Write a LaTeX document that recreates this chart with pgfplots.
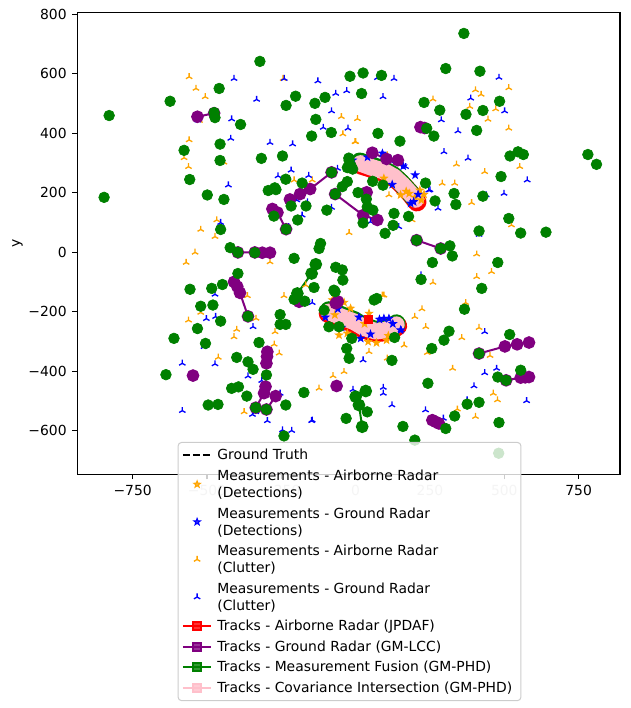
\documentclass[border=0pt]{standalone}
\usepackage{pgfplots}
\pgfplotsset{compat=1.18}
\usepackage{fontspec}
\setmainfont{DejaVu Sans}
\definecolor{morange}{HTML}{FFA500}
\definecolor{mblue}{HTML}{0000FF}
\definecolor{mgreen}{HTML}{008000}
\definecolor{mpurple}{HTML}{800080}
\definecolor{mred}{HTML}{FF0000}
\definecolor{mpink}{HTML}{FFC0CB}
\definecolor{faint}{HTML}{CCCCCC}
\pgfdeclareplotmark{triup}{%
 \pgfpathmoveto{\pgfqpoint{0pt}{0pt}}\pgfpathlineto{\pgfqpoint{0pt}{\pgfplotmarksize}}%
 \pgfpathmoveto{\pgfqpoint{0pt}{0pt}}\pgfpathlineto{\pgfqpoint{-0.866\pgfplotmarksize}{-0.5\pgfplotmarksize}}%
 \pgfpathmoveto{\pgfqpoint{0pt}{0pt}}\pgfpathlineto{\pgfqpoint{0.866\pgfplotmarksize}{-0.5\pgfplotmarksize}}%
 \pgfusepathqstroke}
\pgfdeclareplotmark{fstar}{%
 \pgfpathmoveto{\pgfqpointpolar{90}{\pgfplotmarksize}}%
 \pgfpathlineto{\pgfqpointpolar{126}{0.4\pgfplotmarksize}}%
 \pgfpathlineto{\pgfqpointpolar{162}{\pgfplotmarksize}}%
 \pgfpathlineto{\pgfqpointpolar{198}{0.4\pgfplotmarksize}}%
 \pgfpathlineto{\pgfqpointpolar{234}{\pgfplotmarksize}}%
 \pgfpathlineto{\pgfqpointpolar{270}{0.4\pgfplotmarksize}}%
 \pgfpathlineto{\pgfqpointpolar{306}{\pgfplotmarksize}}%
 \pgfpathlineto{\pgfqpointpolar{342}{0.4\pgfplotmarksize}}%
 \pgfpathlineto{\pgfqpointpolar{18}{\pgfplotmarksize}}%
 \pgfpathlineto{\pgfqpointpolar{54}{0.4\pgfplotmarksize}}%
 \pgfpathclose\pgfusepathqfillstroke}
\newcommand{\fs}{\fontsize{8.33}{10.2}\selectfont}
\begin{document}
\begin{tikzpicture}
\begin{axis}[
 scale only axis, width=325.6pt, height=277.2pt,
 xmin=-936, xmax=889, ymin=-746, ymax=807,
 axis line style={line width=0.67pt},
 tick style={line width=0.67pt, black},
 tick align=outside, major tick length=2.9pt,
 xtick pos=bottom, ytick pos=left,
 xtick={-750,-500,-250,0,250,500,750},
 xticklabels={−750,\textcolor{faint}{−500},\textcolor{faint}{−250},\textcolor{faint}{0},\textcolor{faint}{250},\textcolor{faint}{500},750},
 ytick={-600,-400,-200,0,200,400,600,800},
 yticklabels={−600,−400,−200,0,200,400,600,800},
 tick label style={font=\fs},
 ylabel={y}, ylabel style={font=\fs, at={(axis description cs:-0.11,0.5)}, anchor=center, rotate=0},
 legend style={at={(axis description cs:0.5016,0.07)}, anchor=north,
   font=\fs, draw=black!20, line width=0.6pt, fill=white, fill opacity=0.8, text opacity=1,
   rounded corners=2pt, nodes={align=left, inner ysep=1.85pt, inner xsep=3pt}, row sep=0pt,
   inner xsep=2.2pt, inner ysep=1.5pt},
 legend cell align=left,
 clip=true,
]
\addlegendimage{black, line width=1.1pt, dash pattern=on 4pt off 2pt}
\addlegendentry{\strut Ground Truth}
\addlegendimage{only marks, mark=fstar, morange, mark size=2.1pt}
\addlegendentry{\strut Measurements - Airborne Radar\\\strut(Detections)}
\addlegendimage{only marks, mark=fstar, mblue, mark size=2.1pt}
\addlegendentry{\strut Measurements - Ground Radar\\\strut(Detections)}
\addlegendimage{only marks, mark=triup, morange, mark size=2.2pt, line width=0.8pt}
\addlegendentry{\strut Measurements - Airborne Radar\\\strut(Clutter)}
\addlegendimage{only marks, mark=triup, mblue, mark size=2.2pt, line width=0.8pt}
\addlegendentry{\strut Measurements - Ground Radar\\\strut(Clutter)}
\addlegendimage{mred, line width=1.25pt, mark=square*, mark size=2.4pt}
\addlegendentry{\strut Tracks - Airborne Radar (JPDAF)}
\addlegendimage{mpurple, line width=1.25pt, mark=square*, mark size=2.4pt}
\addlegendentry{\strut Tracks - Ground Radar (GM-LCC)}
\addlegendimage{mgreen, line width=1.25pt, mark=square*, mark size=2.4pt}
\addlegendentry{\strut Tracks - Measurement Fusion (GM-PHD)}
\addlegendimage{mpink, line width=1.25pt, mark=square*, mark size=2.4pt}
\addlegendentry{\strut Tracks - Covariance Intersection (GM-PHD)}

% ground truth
\addplot[forget plot, black, dashed, line width=0.9pt] coordinates {(17,299) (50,287) (95,273) (129,254) (157,228) (179,204) (202,178)};
\addplot[forget plot, black, dashed, line width=0.9pt] coordinates {(-90,-200) (-50,-216) (-6,-233) (28,-253) (67,-265) (101,-261) (129,-250) (137,-243)};

% orange clutter
\addplot[forget plot, only marks, mark=triup, morange, mark size=2.2pt, line width=0.8pt] coordinates {
(-560,590) (-537,551) (-506,523) (-525,443) (-560,378) (-577,318) (-562,288) (-443,303) (-244,584) (-207,243) (-146,243) (-467,109) (-521,77) (-473,53)
(-48,456) (6,449) (-43,398) (-2,372) (260,515) (403,546) (422,531) (515,553) (384,490) (471,482) (445,447) (515,417) (339,296) (434,271) (552,288) (291,232) (333,232) (390,167) (524,92) (-22,66) (190,109) (106,327) (0,372) (112,193)
(-540,0) (-570,-34) (-288,-32) (-168,-110) (-241,-146) (-364,-146) (-562,-228) (-521,-202) (-400,-259) (-409,-284) (-335,-222) (-271,-267) (-274,-309) (-257,-339) (-462,-353) (-375,-536) (-123,-457)
(407,-6) (457,-65) (407,-82) (260,-101) (95,-144) (370,-169) (223,-190) (199,-216) (236,-250) (415,-253) (357,-287) (163,-312) (241,-337) (45,-334) (452,-347) (326,-390) (-76,-415) (-39,-401) (463,-474) (477,-496) (342,-527) (403,-552) (106,-356) (90,-144)
};
% blue clutter
\addplot[forget plot, only marks, mark=triup, mblue, mark size=2.2pt, line width=0.8pt] coordinates {
(-409,584) (-240,584) (-127,576) (-333,514) (-417,448) (-531,444) (-420,383) (-288,369) (-212,364) (-428,226) (-261,257) (-217,276) (-158,258) (-198,176) (-162,169) (-180,125) (-260,139) (-454,100) (-225,86)
(-67,534) (-30,543) (73,587) (129,584) (92,523) (-81,475) (-26,417) (-109,420) (288,445) (344,408) (387,518) (482,588) (501,475) (297,338) (378,316) (577,243) (499,198) (439,193) (250,210) (277,148) (-81,151) (50,103) (145,86) (415,60) (-61,282) (168,288) (246,209)
(220,-76) (-146,-169) (153,-261) (25,-362) (434,-267) (474,-390) (434,-405) (398,-449) (93,-454) (93,-474) (-9,-461) (122,-513) (235,-530) (375,-496) (295,-558) (575,-499) (-146,-564)
(-473,-141) (-502,-223) (-471,-216) (-345,-250) (-510,-317) (-583,-373) (-473,-375) (-362,-416) (-316,-431) (-254,-474) (-583,-532) (-347,-545) (-336,-536) (-297,-566) (-246,-597) (-215,-599) (-148,-566) (-179,-174)
};
% orange detections
\addplot[forget plot, only marks, mark=fstar, morange, mark size=2.4pt] coordinates {
(151,193) (216,209) (221,176) (200,185) (180,198) (95,249) (170,205) (230,195)
(-56,-278) (-28,-272) (45,-205) (42,-300) (70,-304) (104,-295) (110,-280) (-78,-160) (-39,-168) (-17,-188) (-70,-210) (30,-240)
};
% blue detections
\addplot[forget plot, only marks, mark=fstar, mblue, mark size=2.4pt] coordinates {
(90,333) (123,228) (185,165) (-10,310) (40,320) (60,330) (120,310) (160,290) (200,260) (210,195) (195,170) (-20,290)
(11,-218) (95,-222) (112,-222) (-47,-252) (17,-289) (151,-261) (-102,-218) (80,-225) (125,-240) (-60,-190) (50,-275)
};

% JPDAF tracks (red)
\addplot[forget plot, mred, line width=11.5pt, line cap=round, line join=round] coordinates {(18,294) (53,283) (98,268) (134,249) (162,222) (185,197) (206,170)};
\addplot[forget plot, mred, line width=11.5pt, line cap=round, line join=round] coordinates {(-92,-205) (-50,-222) (-6,-239) (28,-258) (67,-270) (101,-266) (130,-255) (141,-247)};
\addplot[forget plot, only marks, mark=square*, mred, mark size=2.5pt] coordinates {(42,-225)};

% GM-LCC tracks (purple)
\pgfplotsset{ptrk/.style={forget plot, mpurple, line width=1.2pt, mark=*, mark size=3.2pt}}
\addplot[ptrk] coordinates {(-532,456) (-476,468)};
\addplot[ptrk] coordinates {(-280,146) (-263,134) (-234,78)};
\addplot[ptrk] coordinates {(-221,178) (-187,196) (-153,213) (-81,269)};
\addplot[ptrk] coordinates {(56,335) (104,314) (142,310)};
\addplot[ptrk] coordinates {(37,202)};
\addplot[ptrk] coordinates {(-69,196) (25,125) (73,109)};
\addplot[ptrk] coordinates {(205,41) (286,13)};
\addplot[ptrk] coordinates {(218,421) (232,418)};
\addplot[ptrk] coordinates {(-396,0) (-339,0) (-314,-1) (-288,-1)};
\addplot[ptrk] coordinates {(-409,-99) (-398,-115) (-389,-136) (-362,-215)};
\addplot[ptrk] coordinates {(-297,-334) (-298,-350) (-300,-373)};
\addplot[ptrk] coordinates {(-336,-522) (-308,-473) (-303,-451)};
\addplot[ptrk] coordinates {(-300,-528) (-269,-483)};
\addplot[ptrk] coordinates {(-547,-414)};
\addplot[ptrk] coordinates {(-190,-166)};
\addplot[ptrk] coordinates {(415,-340) (502,-316) (543,-309) (583,-303)};
\addplot[ptrk] coordinates {(506,-430) (555,-421) (570,-420) (583,-419)};
\addplot[ptrk] coordinates {(-64,-449)};
\addplot[ptrk] coordinates {(258,-564) (270,-570) (280,-575)};
\addplot[ptrk] coordinates {(-67,-171) (-60,-165)};

% GM-PHD tracks (green)
\addplot[forget plot, mgreen, line width=11pt, line cap=round, line join=round] coordinates {(14,305) (47,293) (92,279) (125,260) (153,234) (175,209) (198,183)};
\addplot[forget plot, mgreen, line width=11pt, line cap=round, line join=round] coordinates {(-90,-195) (-50,-211) (-6,-228) (28,-249) (67,-261) (101,-257) (129,-246) (137,-239)};
\addplot[forget plot, mgreen, line width=1.2pt, mark=*, mark size=3.2pt] coordinates {(-196,-138) (-148,-71) (-134,-40)};
\addplot[forget plot, mgreen, line width=1.2pt, mark=*, mark size=3.2pt] coordinates {(22,-586) (11,-513) (0,-485) (34,-466)};
\addplot[forget plot, only marks, mgreen, mark=*, mark size=3.2pt] coordinates {
(-322,642) (-829,460) (-846,185) (-459,551) (-624,508) (-234,494) (-202,525) (-137,501) (-476,470) (-473,453) (-387,430) (-134,447) (-148,391) (-456,364) (-577,343) (-456,309) (-317,316) (-246,324) (-558,245) (-235,246) (-180,233) (-499,193) (-443,178) (-294,208) (-272,217) (-268,211) (-217,156) (-167,156) (-275,122) (-195,109) (-234,78) (-454,77) (-422,16)
(364,736) (303,618) (418,609) (-19,592) (25,603) (87,595) (-103,521) (20,534) (230,504) (283,478) (484,508) (371,464) (428,477) (407,410) (-82,403) (75,400) (149,374) (239,417) (263,391) (519,324) (546,338) (564,329) (781,329) (810,296) (489,255) (-81,269) (-22,309) (-15,290) (-10,280) (-23,317) (-28,285) (57,239) (92,226) (235,233) (-28,238) (-45,221) (-69,196) (8,201) (36,179) (39,153) (331,198) (267,173) (337,161) (428,189) (-97,142) (58,142) (25,99) (129,131) (126,91) (178,121) (99,64) (515,114) (555,65) (640,68) (415,72) (205,41) (286,13) (317,22) (-118,30) (-123,13)
(-396,0) (-339,-1) (-207,-20) (-134,-40) (-148,-71) (-140,-118) (-196,-138) (-207,-158) (-171,-164) (-396,-71) (-557,-124) (-484,-121) (-448,-108) (-521,-181) (-480,-177) (-362,-215) (-254,-209) (-254,-242) (-235,-242) (-454,-231) (-532,-256) (-611,-289) (-505,-306) (-325,-303) (-400,-353) (-362,-368) (-345,-393) (-300,-412) (-638,-411) (-417,-457) (-394,-452) (-366,-483) (-174,-471) (-496,-513) (-463,-511) (-336,-522) (-300,-528) (-235,-513) (-241,-617)
(325,-12) (258,-34) (220,-91) (478,-34) (424,-121) (366,-191) (314,-265) (297,-295) (256,-323) (122,-363) (131,-286) (62,-160) (71,-155) (-69,-132) (-67,-50) (-45,-59) (-43,-93) (-13,-289) (-30,-323) (-22,-356) (518,-276) (415,-340) (555,-396) (478,-419) (506,-430) (243,-440) (375,-510) (415,-504) (333,-550) (303,-592) (482,-572) (159,-585) (199,-631) (34,-466) (0,-485) (11,-513) (39,-536) (22,-586) (-32,-558) (-73,-127) (-106,-194) (-90,-250) (-56,-250) (481,-675)
};

% Covariance intersection (pink)
\addplot[forget plot, mpink, line width=10pt, line cap=round, line join=round] coordinates {(17,299) (50,287) (95,273) (129,254) (157,228) (179,204) (202,178)};
\addplot[forget plot, mpink, line width=10pt, line cap=round, line join=round] coordinates {(-90,-200) (-50,-216) (-6,-233) (28,-253) (67,-265) (101,-261) (129,-250) (137,-243)};
\end{axis}
\path (-46.4pt,-140.2pt) rectangle (331.6pt,284.6pt);
\end{tikzpicture}
\end{document}
